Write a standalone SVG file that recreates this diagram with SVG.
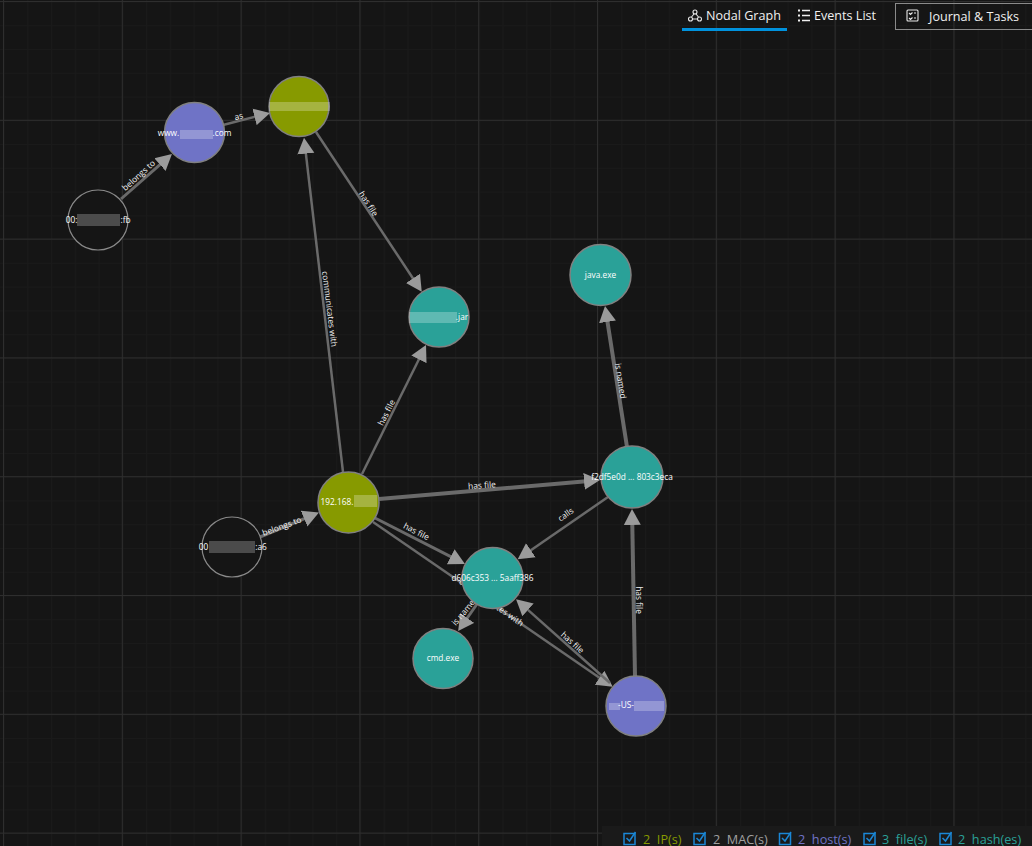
<svg xmlns="http://www.w3.org/2000/svg" width="1032" height="846" viewBox="0 0 1032 846">
<style>
text{font-family:"Open Sans","Noto Sans","Liberation Sans",sans-serif}
.n{stroke:#808080;stroke-width:1.5}
.ip{fill:#879a00}.file{fill:#2aa198}.host{fill:#6f73c6}.mac{fill:#151515;stroke:#8a8a8a;stroke-width:1.2}
.t{font-size:8.3px;fill:#fff;text-anchor:middle;dominant-baseline:middle}
.e{font-size:8.4px;fill:#f2f2f2;text-anchor:middle;dominant-baseline:middle}
.c line{stroke:#6a6a6a;fill:none}
.b{fill:#fff;fill-opacity:.25;filter:url(#soft)}
.d{fill:#5e5e5e;fill-opacity:.75;filter:url(#soft)}
.tab{font-size:12.6px;fill:#f0f0f0}
.f{font-size:12.7px}
.cb{fill:none;stroke:#1b87d6;stroke-width:1.5}
.ic{fill:none;stroke:#e8e8e8;stroke-width:1.1}
</style>
<defs>
<filter id="soft" x="-10%" y="-30%" width="120%" height="160%"><feGaussianBlur stdDeviation="0.7"/></filter>
<pattern id="minor" width="23.76" height="23.76" patternUnits="userSpaceOnUse" x="3.5" y="1.5">
<path d="M.5 0V23.76M0 .5H23.76" stroke="#1a1a1a" fill="none"/>
</pattern>
<pattern id="major" width="118.8" height="118.8" patternUnits="userSpaceOnUse" x="3" y="1">
<path d="M.5 0V118.8M0 .5H118.8" stroke="#2e2e2e" fill="none"/>
</pattern>
<marker id="arrow" markerUnits="userSpaceOnUse" markerWidth="20" markerHeight="18" refX="11" refY="9" orient="auto">
<polygon points="0,0.5 16,9 0,17.5" fill="#9b9b9b"/>
</marker>
</defs>
<rect width="1032" height="846" fill="#151515"/>
<rect width="1032" height="846" fill="url(#minor)"/>
<rect width="1032" height="846" fill="url(#major)"/>
<g id="connectors" class="c">
<line x1="121" y1="199" x2="168.2" y2="157.3" stroke-width="3" marker-end="url(#arrow)"/>
<line x1="223" y1="125" x2="265.2" y2="114.2" stroke-width="2.5" marker-end="url(#arrow)"/>
<line x1="316" y1="132" x2="419" y2="287.5" stroke-width="2.5" marker-end="url(#arrow)"/>
<line x1="343" y1="472" x2="304.6" y2="142.7" stroke-width="2.5" marker-end="url(#arrow)"/>
<line x1="362" y1="474" x2="423.8" y2="349.5" stroke-width="2.5" marker-end="url(#arrow)"/>
<line x1="379" y1="499" x2="595" y2="480.4" stroke-width="4" marker-end="url(#arrow)"/>
<line x1="373" y1="517" x2="460.5" y2="561.7" stroke-width="3" marker-end="url(#arrow)"/>
<line x1="373" y1="522" x2="608.6" y2="684" stroke-width="2.5" marker-end="url(#arrow)"/>
<line x1="260" y1="537" x2="314.3" y2="514.5" stroke-width="3" marker-end="url(#arrow)"/>
<line x1="608" y1="497" x2="521.8" y2="556.5" stroke-width="2.5" marker-end="url(#arrow)"/>
<line x1="627" y1="447" x2="605.8" y2="311" stroke-width="4" marker-end="url(#arrow)"/>
<line x1="635" y1="676" x2="632.1" y2="514" stroke-width="4" marker-end="url(#arrow)"/>
<line x1="610" y1="683" x2="519.8" y2="602.6" stroke-width="2.5" marker-end="url(#arrow)"/>
<line x1="477" y1="604" x2="461" y2="627" stroke-width="3" marker-end="url(#arrow)"/>
<text class="e" transform="translate(139 176) rotate(-42)">belongs to</text>
<text class="e" transform="translate(239 117) rotate(-14)">as</text>
<text class="e" transform="translate(368 204) rotate(57)">has file</text>
<text class="e" transform="translate(329 309) rotate(83)">communicates with</text>
<text class="e" transform="translate(387 413) rotate(-63)">has file</text>
<text class="e" transform="translate(282 527) rotate(-20)">belongs to</text>
<text class="e" transform="translate(482 486) rotate(-4)">has file</text>
<text class="e" transform="translate(416 532) rotate(27)">has file</text>
<text class="e" transform="translate(566 515) rotate(-35)">calls</text>
<text class="e" transform="translate(620 381) rotate(81)">is named</text>
<text class="e" transform="translate(638 600) rotate(90)">has file</text>
<text class="e" transform="translate(572 643) rotate(42)">has file</text>
<text class="e" transform="translate(465.500 611) rotate(-50)">is named</text>
<text class="e" transform="translate(491 603) rotate(35)">communicates with</text>
</g>
<g id="mac1"><circle class="mac" cx="98" cy="220" r="30"/><rect class="d" x="77" y="214" width="43" height="12"/><text class="t" x="71.5" y="220.5">00:</text><text class="t" x="125.5" y="220.5">:fb</text></g>
<g id="host1"><circle class="n host" cx="194.5" cy="132.500" r="30"/><rect class="b" x="180" y="130" width="33" height="9"/><text class="t" x="168.500" y="133.500">www.</text><text class="t" x="222" y="133.500">.com</text></g>
<g id="ip1"><circle class="n ip" cx="299" cy="106.500" r="30"/><rect class="b" x="269" y="102" width="61" height="9"/></g>
<g id="jar"><circle class="n file" cx="439" cy="317" r="30"/><rect class="b" x="409" y="312" width="48" height="11"/><text class="t" x="462" y="317.500">.jar</text></g>
<g id="java"><circle class="n file" cx="600.500" cy="275" r="30.500"/><text class="t" x="600.500" y="275.500">java.exe</text></g>
<g id="hash1"><circle class="n file" cx="632" cy="477" r="31"/><text class="t" x="632" y="477.500">f2df5e0d ... 803c3eca</text></g>
<g id="ip2"><circle class="n ip" cx="348.500" cy="502.500" r="30.500"/><rect class="b" x="354" y="495" width="23" height="12"/><text class="t" x="337" y="502.500">192.168.</text></g>
<g id="mac2"><circle class="mac" cx="232" cy="547" r="30"/><rect class="d" x="209" y="541" width="46" height="12"/><text class="t" x="203.500" y="547.500">00</text><text class="t" x="261" y="547.500">:a6</text></g>
<g id="d606"><circle class="n file" cx="492.500" cy="578" r="30.500"/><text class="t" x="492.500" y="578.500">d606c353 ... 5aaff386</text></g>
<g id="cmd"><circle class="n file" cx="443" cy="658.500" r="30"/><text class="t" x="443" y="658.500">cmd.exe</text></g>
<g id="us"><circle class="n host" cx="636" cy="706" r="30"/><rect class="b" x="609" y="703" width="11" height="7"/><rect class="b" x="634" y="701" width="30" height="10"/><text class="t" x="626" y="706">-US-</text></g>
<g id="tabs">
<g class="ic"><circle cx="695" cy="12" r="2"/><circle cx="690.500" cy="19" r="2"/><circle cx="699.500" cy="19" r="2"/><path d="M694 14 691.500 17M696 14 698.500 17M692.500 19H697.500"/></g>
<text class="tab" x="706" y="20">Nodal Graph</text>
<rect x="682" y="28" width="105" height="3" fill="#0092dd"/>
<path d="M798 10.500h2M798 15.500h2M798 20.500h2" stroke="#f0f0f0" stroke-width="2"/>
<path d="M802 10.500h8M802 15.500h8M802 20.500h8" stroke="#f0f0f0" stroke-width="1.500"/>
<text class="tab" x="814" y="20">Events List</text>
<rect x="895.500" y="3.500" width="140" height="26" fill="none" stroke="#8a8a8a"/>
<rect x="907" y="10" width="11" height="11" rx="1" class="ic"/>
<path d="M909 13l1.500 1.500 2-2M914 13h2M909 18l1.500 1.500 2-2M914 18h2" class="ic" stroke-width=".8"/>
<text class="tab" x="929" y="21">Journal &amp; Tasks</text>
</g>
<g id="legend">
<rect x="602" y="826" width="430" height="20" fill="#1a1a1a"/>
<g class="cb"><rect x="624" y="833.500" width="11" height="11"/><rect x="694" y="833.500" width="11" height="11"/><rect x="779.500" y="833.500" width="11" height="11"/><rect x="864" y="833.500" width="11" height="11"/><rect x="940" y="833.500" width="11" height="11"/>
<path d="M626.500 838l3 3 6-9M696.500 838l3 3 6-9M782 838l3 3 6-9M866.500 838l3 3 6-9M942.500 838l3 3 6-9"/></g>
<text class="f" fill="#879a00" x="643" y="844" xml:space="preserve">2  IP(s)</text>
<text class="f" fill="#a0a0a0" x="713" y="844" xml:space="preserve">2  MAC(s)</text>
<text class="f" fill="#6f73c6" x="798" y="844" xml:space="preserve">2  host(s)</text>
<text class="f" fill="#2aa198" x="882" y="844" xml:space="preserve">3  file(s)</text>
<text class="f" fill="#2aa198" x="958" y="844" xml:space="preserve">2  hash(es)</text>
</g>
</svg>
